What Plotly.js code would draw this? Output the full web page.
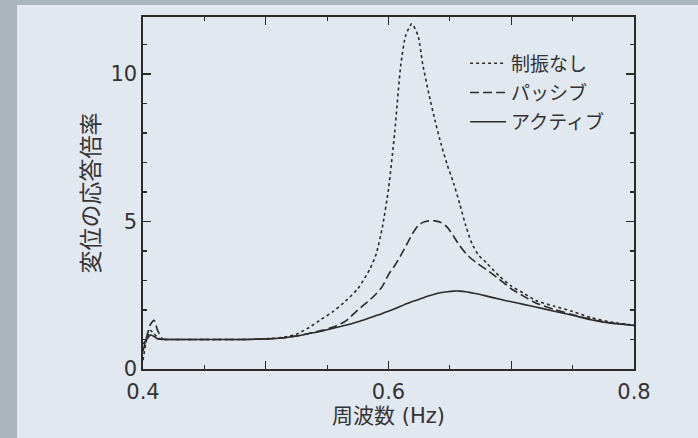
<!DOCTYPE html>
<html>
<head>
<meta charset="utf-8">
<script src="https://cdn.plot.ly/plotly-3.0.1.min.js"></script>
<style>html,body{margin:0;padding:0;background:#e2e8f0;}#chart{width:698px;height:438px;}</style>
</head>
<body>
<div id="chart"></div>
<script>
// Frequency (Hz)
const freq = [0.400,0.403,0.406,0.409,0.412,0.416,0.420,0.440,0.460,0.480,0.500,0.515,0.525,0.535,0.545,0.555,0.565,0.575,0.585,0.590,0.595,0.600,0.605,0.610,0.614,0.619,0.624,0.628,0.633,0.638,0.643,0.648,0.653,0.658,0.663,0.668,0.673,0.680,0.690,0.700,0.710,0.720,0.735,0.750,0.765,0.780,0.800];
// 制振なし (no control)
const noControl = [0.3,1.0,1.3,1.2,1.05,1.0,1.0,1.0,1.0,1.0,1.02,1.08,1.18,1.4,1.68,1.95,2.3,2.72,3.4,3.9,4.8,6.1,8.0,10.3,11.3,11.7,11.3,10.3,9.3,8.4,7.6,6.9,6.3,5.6,4.85,4.25,3.88,3.59,3.16,2.81,2.57,2.32,2.13,1.95,1.74,1.6,1.48];
// パッシブ (passive)
const passive = [0.6,1.1,1.5,1.65,1.3,1.02,1.0,1.0,1.0,1.0,1.02,1.06,1.12,1.2,1.3,1.42,1.62,2.0,2.35,2.55,2.8,3.2,3.5,3.85,4.15,4.55,4.85,4.97,5.02,5.02,4.96,4.8,4.5,4.18,3.92,3.72,3.56,3.36,3.05,2.72,2.47,2.24,2.02,1.84,1.68,1.57,1.48];
// アクティブ (active)
const active = [0.85,1.0,1.15,1.1,1.02,1.0,1.0,1.0,1.0,1.0,1.02,1.06,1.12,1.2,1.28,1.38,1.48,1.6,1.74,1.81,1.88,1.96,2.04,2.13,2.2,2.28,2.35,2.41,2.48,2.54,2.59,2.62,2.64,2.64,2.62,2.58,2.54,2.47,2.37,2.28,2.19,2.10,1.96,1.82,1.67,1.56,1.48];

const seriesNames = ['制振なし','パッシブ','アクティブ'];
const xTickVals = [0.4,0.5,0.6,0.7,0.8];
const xTickText = ['0.4','','0.6','','0.8'];
const yTickVals = [0,5,10];
const yTickText = ['0','5','10'];

const NUMFONT = 'DejaVu Sans, Noto Sans CJK JP, sans-serif';
const JPFONT = 'Noto Sans CJK JP, sans-serif';
const INK = '#2b2b2b';

const traces = [
  {x: freq, y: noControl, name: seriesNames[0], mode: 'lines', legendgroup: 'a',
   line: {color: INK, width: 1.6, dash: '3px,3px', shape: 'spline', smoothing: 0.6}},
  {x: freq, y: passive, name: seriesNames[1], mode: 'lines', legendgroup: 'b',
   line: {color: INK, width: 1.6, dash: '9px,4px', shape: 'spline', smoothing: 0.6}},
  {x: freq, y: active, name: seriesNames[2], mode: 'lines', legendgroup: 'c',
   line: {color: INK, width: 1.6, shape: 'spline', smoothing: 0.6}}
];

const layout = {
  width: 698, height: 438,
  margin: {l: 143, r: 64, t: 17, b: 69, pad: 0},
  paper_bgcolor: '#aab5bd',
  plot_bgcolor: 'rgba(0,0,0,0)',
  font: {family: NUMFONT, color: '#333', size: 21},
  showlegend: true,
  legend: {x: 0.656, y: 0.922, xanchor: 'left', yanchor: 'top', bgcolor: 'rgba(0,0,0,0)',
           font: {family: JPFONT, size: 19, color: '#333'}, itemwidth: 36,
           traceorder: 'grouped', tracegroupgap: 1.5},
  shapes: [{type: 'rect', xref: 'paper', yref: 'paper', x0: -0.2566, x1: 1.2, y0: -0.25, y1: 1.034,
            fillcolor: '#e2e8f0', line: {width: 0}, layer: 'below'}],
  xaxis: {range: [0.4, 0.8], tickvals: xTickVals, ticktext: xTickText, ticks: 'inside', ticklen: 8,
          tickwidth: 1.3, tickcolor: INK, showline: true, linecolor: INK, linewidth: 1.6, mirror: 'allticks',
          showgrid: false, zeroline: false, ticklabelstandoff: 3,
          minor: {dtick: 0.05, tick0: 0.4, ticks: 'inside', ticklen: 4, tickcolor: INK, tickwidth: 1.2, showgrid: false},
          tickfont: {size: 21, color: '#333', family: NUMFONT},
          title: {text: '周波数 (Hz)', font: {size: 21, color: '#333', family: NUMFONT}, standoff: 2}},
  yaxis: {range: [0, 11.93], tickvals: yTickVals, ticktext: yTickText, ticks: 'inside', ticklen: 8,
          tickwidth: 1.3, tickcolor: INK, showline: true, linecolor: INK, linewidth: 1.6, mirror: 'allticks',
          showgrid: false, zeroline: false,
          minor: {dtick: 1, tick0: 0, ticks: 'inside', ticklen: 4, tickcolor: INK, tickwidth: 1.2, showgrid: false},
          tickfont: {size: 21, color: '#333', family: NUMFONT},
          title: {text: '変位の応答倍率', font: {size: 23, color: '#333', family: JPFONT}, standoff: 4}}
};

Plotly.newPlot('chart', traces, layout, {displayModeBar: false, staticPlot: true});
</script>
</body>
</html>
